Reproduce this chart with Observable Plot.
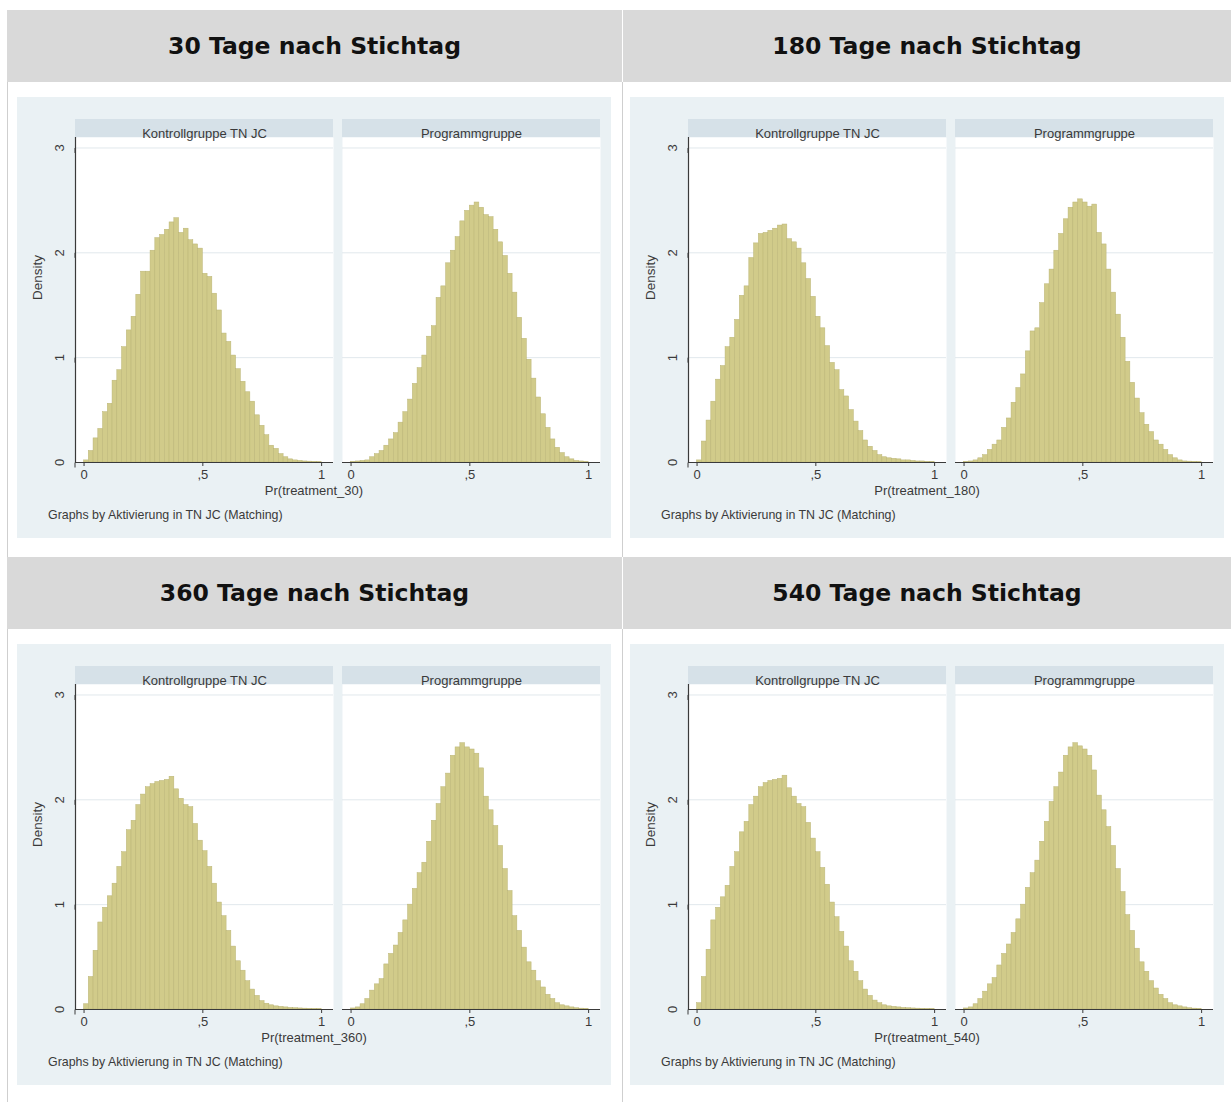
<!DOCTYPE html>
<html>
<head>
<meta charset="utf-8">
<script src="https://cdn.jsdelivr.net/npm/d3@7"></script>
<script src="https://cdn.jsdelivr.net/npm/@observablehq/plot@0.6"></script>
<style>
  html, body { margin: 0; padding: 0; background: #fff; }
  #page { position: relative; width: 1231px; height: 1102px; overflow: hidden; font-family: "Liberation Sans", Arial, sans-serif; }
  .hdr { position: absolute; height: 72px; background: #d9d9d9; display: flex; align-items: center; justify-content: center;
         font-family: "DejaVu Sans", sans-serif; font-weight: bold; font-size: 23.5px; color: #111; }
  .vline { position: absolute; width: 1px; background: #cfcfcf; }
  .box { position: absolute; width: 594px; height: 441px; background: #eaf1f4; }
  .box svg { position: absolute; left: 0; top: 0; }
  .xt { position: absolute; top: 386px; left: 0; width: 594px; text-align: center; font-size: 13px; color: #3a3a3a; line-height: 16px; }
  .note { position: absolute; top: 411px; left: 31px; font-size: 12.4px; color: #3a3a3a; line-height: 15px; }
</style>
</head>
<body>
<div id="page"></div>
<script>
// ---------- data ----------
const periods = [30, 180, 360, 540];
const groups = ["Kontrollgruppe TN JC", "Programmgruppe"];
const xTicks = [0, 0.5, 1];
const xTickLabels = ["0", ",5", "1"];
const yTicks = [0, 1, 2, 3];
const yTickLabels = ["0", "1", "2", "3"];
const binWidth = 0.02; // 50 bins over Pr(treatment) in [0, 1]
const noteText = "Graphs by Aktivierung in TN JC (Matching)";

// density per bin (bin i covers [i*0.02, (i+1)*0.02])
const kontroll30 = [0.02,0.11,0.23,0.32,0.48,0.56,0.78,0.88,1.10,1.26, 1.39,1.60,1.82,1.82,2.02,2.14,2.17,2.22,2.29,2.33,
  2.19,2.23,2.12,2.08,2.04,1.80,1.77,1.61,1.45,1.23, 1.15,1.02,0.89,0.77,0.67,0.58,0.45,0.35,0.26,0.16,
  0.13,0.08,0.05,0.03,0.02,0.015,0.01,0.008,0.005,0.003];
const programm30 = [0.005,0.01,0.015,0.02,0.05,0.08,0.11,0.16,0.22,0.28, 0.38,0.48,0.60,0.75,0.90,1.02,1.20,1.30,1.57,1.68,
  1.90,2.02,2.15,2.30,2.40,2.45,2.48,2.43,2.36,2.34, 2.22,2.10,1.97,1.80,1.62,1.38,1.18,0.98,0.80,0.62,
  0.46,0.33,0.22,0.14,0.09,0.05,0.03,0.015,0.01,0.005];
const kontroll180 = [0.02,0.20,0.40,0.58,0.79,0.92,1.10,1.19,1.36,1.59, 1.68,1.95,2.09,2.18,2.19,2.21,2.23,2.26,2.27,2.13,
  2.10,2.04,1.90,1.75,1.58,1.39,1.28,1.11,0.95,0.88, 0.69,0.63,0.50,0.39,0.30,0.21,0.15,0.11,0.07,0.05,
  0.04,0.035,0.03,0.02,0.02,0.015,0.01,0.01,0.005,0.005];
const programm180 = [0.005,0.01,0.02,0.04,0.07,0.12,0.17,0.21,0.33,0.42, 0.57,0.71,0.84,1.06,1.25,1.28,1.52,1.70,1.84,2.02,
  2.18,2.32,2.43,2.48,2.51,2.48,2.44,2.46,2.19,2.08, 1.84,1.62,1.41,1.19,0.96,0.76,0.61,0.47,0.36,0.29,
  0.21,0.17,0.12,0.07,0.04,0.02,0.01,0.008,0.005,0.003];
const kontroll360 = [0.05,0.31,0.56,0.83,0.97,1.08,1.20,1.36,1.50,1.71, 1.80,1.95,2.05,2.12,2.15,2.17,2.18,2.19,2.22,2.10,
  2.01,1.95,1.93,1.77,1.61,1.51,1.36,1.20,1.02,0.89, 0.75,0.60,0.46,0.37,0.27,0.19,0.13,0.08,0.055,0.04,
  0.03,0.025,0.02,0.015,0.012,0.01,0.008,0.006,0.004,0.003];
const programm360 = [0.01,0.02,0.05,0.10,0.18,0.24,0.29,0.43,0.53,0.61, 0.73,0.85,1.00,1.15,1.30,1.40,1.60,1.80,1.96,2.12,
  2.25,2.42,2.50,2.54,2.50,2.48,2.44,2.30,2.03,1.90, 1.75,1.56,1.34,1.13,0.89,0.75,0.59,0.45,0.37,0.27,
  0.21,0.14,0.10,0.06,0.04,0.03,0.02,0.012,0.008,0.005];
const kontroll540 = [0.06,0.31,0.57,0.85,0.97,1.07,1.18,1.36,1.50,1.69, 1.79,1.95,2.03,2.12,2.16,2.18,2.19,2.20,2.23,2.11,
  2.03,1.96,1.93,1.78,1.63,1.50,1.35,1.19,1.02,0.88, 0.74,0.60,0.46,0.36,0.27,0.19,0.13,0.085,0.06,0.04,
  0.03,0.025,0.02,0.015,0.012,0.01,0.008,0.006,0.004,0.003];
const programm540 = [0.01,0.02,0.05,0.10,0.17,0.24,0.30,0.42,0.53,0.62, 0.73,0.86,1.00,1.16,1.30,1.42,1.60,1.79,1.98,2.12,
  2.26,2.42,2.50,2.54,2.51,2.48,2.42,2.28,2.04,1.90, 1.74,1.56,1.34,1.12,0.90,0.75,0.58,0.45,0.36,0.27,
  0.20,0.14,0.10,0.06,0.04,0.03,0.02,0.012,0.008,0.005];

const kontrollSeries = [kontroll30, kontroll180, kontroll360, kontroll540];
const programmSeries = [programm30, programm180, programm360, programm540];

// ---------- styling ----------
const barFill = "#d1cb8a", barStroke = "#bab474";
const stripFill = "#d6e1e8", gridColor = "#e1e8ec", axisColor = "#3a3a3a", textColor = "#3a3a3a";
const W = 594, H = 392, mTop = 40, mBottom = 27, mLeft = 58, mRight = 11, stripPx = 18;
const xDomain = [-0.036, 1.05], yDomain = [0, 3.1];
const yStripTop = yDomain[1] + stripPx * (yDomain[1] - yDomain[0]) / (H - mTop - mBottom);

function chart(kon, prog) {
  const series = [kon, prog];
  const rows = groups.flatMap((g, gi) => series[gi].map((v, i) => ({g, x1: i * binWidth, x2: (i + 1) * binWidth, density: v})));
  return Plot.plot({
    width: W, height: H,
    marginTop: mTop, marginBottom: mBottom, marginLeft: mLeft, marginRight: mRight,
    style: {background: "none", fontFamily: '"Liberation Sans", Arial, sans-serif', fontSize: "13px", color: textColor},
    fx: {domain: groups, paddingInner: 0.034, paddingOuter: 0, axis: null, label: null},
    x: {domain: xDomain, axis: null},
    y: {domain: yDomain, axis: null},
    marks: [
      Plot.frame({fill: "#ffffff", stroke: "none"}),
      Plot.rect(groups, {fx: d => d, x1: xDomain[0], x2: xDomain[1], y1: yDomain[1], y2: yStripTop, fill: stripFill}),
      Plot.text(groups, {fx: d => d, text: d => d, frameAnchor: "top", dy: -9, fill: textColor, fontSize: 13}),
      Plot.gridY(yTicks.filter(t => t > 0), {stroke: gridColor, strokeOpacity: 1}),
      Plot.rectY(rows, {fx: "g", x1: "x1", x2: "x2", y: "density", fill: barFill, stroke: barStroke, strokeWidth: 0.5}),
      Plot.ruleY([0], {stroke: axisColor, strokeWidth: 1.2}),
      Plot.ruleX([{g: groups[0], x: xDomain[0]}], {fx: "g", x: "x", stroke: axisColor, strokeWidth: 1.2}),
      Plot.axisX(xTicks, {tickFormat: d => xTickLabels[xTicks.indexOf(d)], tickSize: 4, tickPadding: 3, label: null, stroke: axisColor, fill: textColor, fontSize: 13}),
      Plot.axisY(yTicks, {tickFormat: d => yTickLabels[yTicks.indexOf(d)], tickSize: 5, tickPadding: 7, label: null, rotate: -90, textAnchor: "middle", lineAnchor: "bottom", stroke: axisColor, fill: textColor, fontSize: 13}),
      Plot.text([{g: groups[0], t: "Density"}], {fx: "g", text: "t", frameAnchor: "left", dx: -38, rotate: -90, fill: textColor, fontSize: 13.5})
    ]
  });
}

// ---------- layout ----------
const page = document.getElementById("page");
const colLeft = [7, 623], colWidth = [615, 608], boxLeft = [17, 630];
const rowTop = [10, 557], hdrH = 72;

// vertical cell borders
[[7, 82, 475], [622, 82, 475], [7, 629, 473], [622, 629, 473]].forEach(([x, y, h]) => {
  const v = document.createElement("div"); v.className = "vline";
  v.style.left = x + "px"; v.style.top = y + "px"; v.style.height = h + "px";
  page.appendChild(v);
});

periods.forEach((p, k) => {
  const col = k % 2, row = Math.floor(k / 2);
  const hdr = document.createElement("div");
  hdr.className = "hdr";
  hdr.style.left = colLeft[col] + "px"; hdr.style.top = rowTop[row] + "px"; hdr.style.width = colWidth[col] + "px";
  hdr.textContent = `${p} Tage nach Stichtag`;
  page.appendChild(hdr);

  const box = document.createElement("div");
  box.className = "box";
  box.style.left = boxLeft[col] + "px"; box.style.top = (rowTop[row] + hdrH + 15) + "px";
  box.appendChild(chart(kontrollSeries[k], programmSeries[k]));
  const xt = document.createElement("div"); xt.className = "xt"; xt.textContent = `Pr(treatment_${p})`;
  const note = document.createElement("div"); note.className = "note"; note.textContent = noteText;
  box.appendChild(xt); box.appendChild(note);
  page.appendChild(box);
});
</script>
</body>
</html>
